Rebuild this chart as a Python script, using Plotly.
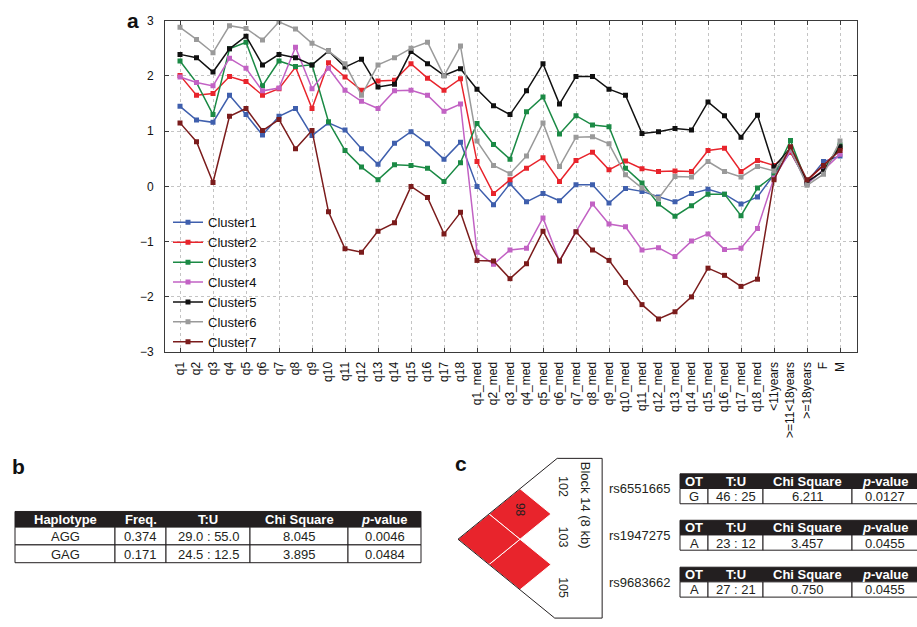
import plotly.graph_objects as go

W, H = 917, 627

# ---------------- data ----------------
categories = ["q1", "q2", "q3", "q4", "q5", "q6", "q7", "q8", "q9", "q10", "q11", "q12",
              "q13", "q14", "q15", "q16", "q17", "q18",
              "q1_med", "q2_med", "q3_med", "q4_med", "q5_med", "q6_med", "q7_med", "q8_med",
              "q9_med", "q10_med", "q11_med", "q12_med", "q13_med", "q14_med", "q15_med",
              "q16_med", "q17_med", "q18_med",
              "<11years", ">=11<18years", ">=18years", "F", "M"]

cluster1 = [1.45, 1.20, 1.16, 1.65, 1.30, 0.93, 1.27, 1.41, 0.92, 1.15, 1.02, 0.68, 0.40, 0.78, 0.99, 0.77, 0.49, 0.80,
            0.00, -0.33, 0.05, -0.28, -0.13, -0.26, 0.03, 0.03, -0.30, -0.04, -0.09, -0.19, -0.28, -0.13, -0.05, -0.14, -0.32, -0.19,
            0.22, 0.62, 0.08, 0.45, 0.55]
cluster2 = [2.01, 1.65, 1.68, 1.99, 1.90, 1.65, 1.77, 2.16, 1.41, 2.24, 1.98, 1.74, 1.91, 1.92, 2.22, 1.96, 1.74, 1.95,
            0.45, -0.13, 0.12, 0.33, 0.52, 0.09, 0.47, 0.62, 0.30, 0.46, 0.32, 0.27, 0.28, 0.27, 0.65, 0.69, 0.27, 0.47,
            0.38, 0.62, 0.10, 0.38, 0.68]
cluster3 = [2.27, 1.88, 1.30, 2.49, 2.61, 1.82, 2.27, 2.17, 2.20, 1.17, 0.65, 0.35, 0.12, 0.39, 0.38, 0.33, 0.09, 0.43,
            1.14, 0.76, 0.49, 1.35, 1.62, 0.95, 1.28, 1.11, 1.08, 0.33, 0.06, -0.32, -0.54, -0.35, -0.14, -0.14, -0.53, -0.03,
            0.20, 0.83, 0.05, 0.30, 0.75]
cluster4 = [1.98, 1.88, 1.82, 2.32, 2.14, 1.73, 1.78, 2.52, 1.77, 2.14, 1.74, 1.54, 1.41, 1.73, 1.74, 1.65, 1.36, 1.49,
            -1.19, -1.41, -1.15, -1.12, -0.57, -1.35, -0.82, -0.32, -0.68, -0.73, -1.15, -1.11, -1.27, -0.99, -0.86, -1.14, -1.12, -0.76,
            0.15, 0.65, 0.05, 0.30, 0.58]
cluster5 = [2.39, 2.33, 2.07, 2.49, 2.72, 2.20, 2.39, 2.33, 2.20, 2.45, 2.16, 2.30, 1.80, 1.85, 2.44, 2.22, 2.01, 2.13,
            1.76, 1.46, 1.30, 1.73, 2.22, 1.49, 1.99, 1.99, 1.76, 1.65, 0.96, 0.99, 1.05, 1.02, 1.53, 1.28, 0.89, 1.29,
            0.35, 0.70, 0.08, 0.28, 0.72]
cluster6 = [2.88, 2.66, 2.42, 2.91, 2.86, 2.65, 2.98, 2.85, 2.59, 2.45, 2.22, 1.65, 2.20, 2.33, 2.50, 2.61, 2.00, 2.54,
            0.82, 0.38, 0.23, 0.55, 1.15, 0.36, 0.89, 0.90, 0.77, 0.21, -0.03, -0.22, 0.18, 0.17, 0.45, 0.27, 0.17, 0.36,
            0.28, 0.68, 0.02, 0.22, 0.82]
cluster7 = [1.15, 0.81, 0.07, 1.27, 1.41, 1.01, 1.21, 0.68, 1.01, -0.46, -1.13, -1.19, -0.81, -0.66, 0.00, -0.20, -0.86, -0.47,
            -1.34, -1.35, -1.67, -1.40, -0.81, -1.35, -0.82, -1.15, -1.34, -1.74, -2.14, -2.40, -2.27, -2.00, -1.48, -1.61, -1.81, -1.68,
            0.12, 0.72, 0.12, 0.38, 0.65]

cluster_names = ["Cluster1", "Cluster2", "Cluster3", "Cluster4", "Cluster5", "Cluster6", "Cluster7"]
cluster_values = [cluster1, cluster2, cluster3, cluster4, cluster5, cluster6, cluster7]
cluster_colors = ["#3f5fad", "#e8242c", "#1b8a45", "#c262c4", "#111111", "#9a9a9a", "#7b1c1c"]

y_ticks = [-3, -2, -1, 0, 1, 2, 3]

# table b
hap_header = ["Haplotype", "Freq.", "T:U", "Chi Square", "<i>p</i>-value"]
hap_names = ["AGG", "GAG"]
hap_freq = ["0.374", "0.171"]
hap_tu = ["29.0 : 55.0", "24.5 : 12.5"]
hap_chi = ["8.045", "3.895"]
hap_p = ["0.0046", "0.0484"]

# table c
snp_header = ["OT", "T:U", "Chi Square", "<i>p</i>-value"]
snp_ids = ["rs6551665", "rs1947275", "rs9683662"]
snp_ot = ["G", "A", "A"]
snp_tu = ["46 : 25", "23 : 12", "27 : 21"]
snp_chi = ["6.211", "3.457", "0.750"]
snp_p = ["0.0127", "0.0455", "0.0455"]

# LD block
ld_markers = ["102", "103", "105"]
ld_pairs = [(0, 1), (1, 2), (0, 2)]
ld_dprime = [98, 100, 100]
ld_block_label = "Block 14 (8 kb)"

FONT = "Liberation Sans, Arial, Helvetica, sans-serif"
INK = "#231f20"


def px(x):
    return x / W


def py(y):
    return 1 - y / H


fig = go.Figure()
shapes = []
annotations = []

# ---------------- panel a ----------------
xidx = list(range(len(categories)))
for name, vals, col in zip(cluster_names, cluster_values, cluster_colors):
    fig.add_trace(go.Scatter(
        x=xidx, y=vals, name=name, mode="lines+markers",
        line=dict(color=col, width=1.5),
        marker=dict(symbol="square", size=5, color=col),
        xaxis="x", yaxis="y"))

# helper trace for the overlaid grid axis (every other category)
fig.add_trace(go.Scatter(x=[None], y=[None], xaxis="x2", yaxis="y",
                         showlegend=False, hoverinfo="skip"))

x_rng = [-15 / 16.5, len(categories) - 1 + 17 / 16.5]
axis_line = "#3a3a3a"
grid_col = "#c4c4c4"


# ---------------- tables (shapes + text, built from the arrays) ----------------
def draw_table(x0, y0, widths, hh, rh, header, columns, fsize):
    total = sum(widths)
    shapes.append(dict(type="rect", xref="paper", yref="paper", x0=px(x0), x1=px(x0 + total),
                       y0=py(y0 + hh), y1=py(y0), fillcolor=INK, line=dict(color=INK, width=1)))
    xc = x0
    nrows = len(columns[0])
    for c, w in enumerate(widths):
        annotations.append(dict(text="<b>" + header[c] + "</b>", x=px(xc + w / 2), y=py(y0 + hh / 2),
                                xref="paper", yref="paper", xanchor="center", yanchor="middle",
                                showarrow=False, font=dict(size=fsize, color="white", family=FONT)))
        for r in range(nrows):
            top = y0 + hh + r * rh
            shapes.append(dict(type="rect", xref="paper", yref="paper", x0=px(xc), x1=px(xc + w),
                               y0=py(top + rh), y1=py(top), fillcolor="white",
                               line=dict(color=INK, width=1)))
            annotations.append(dict(text=columns[c][r], x=px(xc + w / 2), y=py(top + rh / 2 + 0.5),
                                    xref="paper", yref="paper", xanchor="center", yanchor="middle",
                                    showarrow=False, font=dict(size=fsize, color=INK, family=FONT)))
        xc += w


draw_table(15, 516, [100, 51, 84, 98, 73], 16, 18.2, hap_header,
           [hap_names, hap_freq, hap_tu, hap_chi, hap_p], 13)

c_tops = [477.5, 525, 573]
for k, top in enumerate(c_tops):
    draw_table(680, top, [28, 55, 89, 66], 15, 15.6, snp_header,
               [[snp_ot[k]], [snp_tu[k]], [snp_chi[k]], [snp_p[k]]], 13)
    annotations.append(dict(text=snp_ids[k], x=px(672), y=py(top + 15.5), xref="paper", yref="paper",
                            xanchor="right", yanchor="middle", showarrow=False,
                            font=dict(size=13, color=INK, family=FONT)))

# ---------------- LD triangle ----------------
n = len(ld_markers)
for (i, j), d in zip(ld_pairs, ld_dprime):
    cx = -(j - i)
    cy = (i + j) / 2 + 1
    fig.add_trace(go.Scatter(
        x=[cx - 1, cx, cx + 1, cx, cx - 1], y=[cy, cy - 0.5, cy, cy + 0.5, cy],
        mode="lines", fill="toself", fillcolor="#e8242c",
        line=dict(color="white", width=1), xaxis="x3", yaxis="y3",
        showlegend=False, hoverinfo="skip"))
    if d < 100:
        annotations.append(dict(text=str(d), x=cx, y=cy - 0.08, xref="x3", yref="y3", textangle=90,
                                showarrow=False, font=dict(size=12, color=INK, family=FONT)))

pad_top, pad_bot, right_x = 0.6, 0.56, 1.65
tip = (-n, (n + 1) / 2)
top_y = 1 - pad_top
bot_y = n + pad_bot
frame_x = [tip[0], tip[0] + 2 * (tip[1] - top_y), right_x, right_x, tip[0] + 2 * (bot_y - tip[1]), tip[0]]
frame_y = [tip[1], top_y, top_y, bot_y, bot_y, tip[1]]
fig.add_trace(go.Scatter(x=frame_x, y=frame_y, mode="lines", line=dict(color=INK, width=1),
                         xaxis="x3", yaxis="y3", showlegend=False, hoverinfo="skip"))

for k, m in enumerate(ld_markers):
    annotations.append(dict(text=m, x=0.39, y=k + 1 - 0.05, xref="x3", yref="y3", textangle=90,
                            showarrow=False, font=dict(size=12.5, color=INK, family=FONT)))
annotations.append(dict(text=ld_block_label, x=1.1, y=1.32, xref="x3", yref="y3", textangle=90,
                        showarrow=False, font=dict(size=13, color=INK, family=FONT)))

# panel letters
for letter, lx, ly in [("a", 133, 14), ("b", 18, 470), ("c", 461, 467)]:
    annotations.append(dict(text="<b>" + letter + "</b>", x=px(lx), y=py(ly), xref="paper", yref="paper",
                            xanchor="center", yanchor="middle", showarrow=False,
                            font=dict(size=21, color="#111", family=FONT)))

fig.update_layout(
    width=W, height=H,
    margin=dict(l=0, r=0, t=0, b=0),
    paper_bgcolor="white", plot_bgcolor="white",
    font=dict(family=FONT, color="#111"),
    showlegend=True,
    legend=dict(x=px(168), y=py(205), xanchor="left", yanchor="top", bgcolor="rgba(0,0,0,0)",
                font=dict(size=13, family=FONT), tracegroupgap=0),
    xaxis=dict(domain=[px(165), px(857)], range=x_rng, tickmode="array", tickvals=xidx, ticktext=categories,
               tickangle=-90, showgrid=False, zeroline=False, showline=True, linecolor=axis_line,
               linewidth=1, mirror=True, ticks="", tickfont=dict(size=12, family=FONT, color="#111"),
               anchor="y", ticklabelstandoff=4),
    xaxis2=dict(overlaying="x", range=x_rng, tickmode="array", tickvals=xidx[::2], showticklabels=False,
                showgrid=True, gridcolor=grid_col, griddash="dot", gridwidth=1, zeroline=False,
                ticks="inside", ticklen=4, tickcolor=axis_line, mirror="ticks", showline=True,
                linecolor=axis_line, anchor="y", side="bottom"),
    yaxis=dict(domain=[py(353), py(14)], range=[-3, 3], tickmode="array", tickvals=y_ticks,
               showgrid=True, gridcolor=grid_col, griddash="dot", gridwidth=1, zeroline=False,
               ticks="inside", ticklen=4, tickcolor=axis_line, mirror="ticks", showline=True,
               linecolor=axis_line, tickfont=dict(size=12, family=FONT, color="#111"),
               ticklabelstandoff=8),
    xaxis3=dict(domain=[px(440), px(620)], range=[(440 - 551) / 31, (620 - 551) / 31], visible=False,
                anchor="y3", fixedrange=True),
    yaxis3=dict(domain=[0, py(450)], range=[(627 - 441) / 51.7, (450 - 441) / 51.7], visible=False,
                anchor="x3", fixedrange=True),
    shapes=shapes,
    annotations=annotations,
)

fig.write_html("out.html", config={"displayModeBar": False},
               post_script="document.body.style.margin='0';document.body.style.overflow='hidden';")
